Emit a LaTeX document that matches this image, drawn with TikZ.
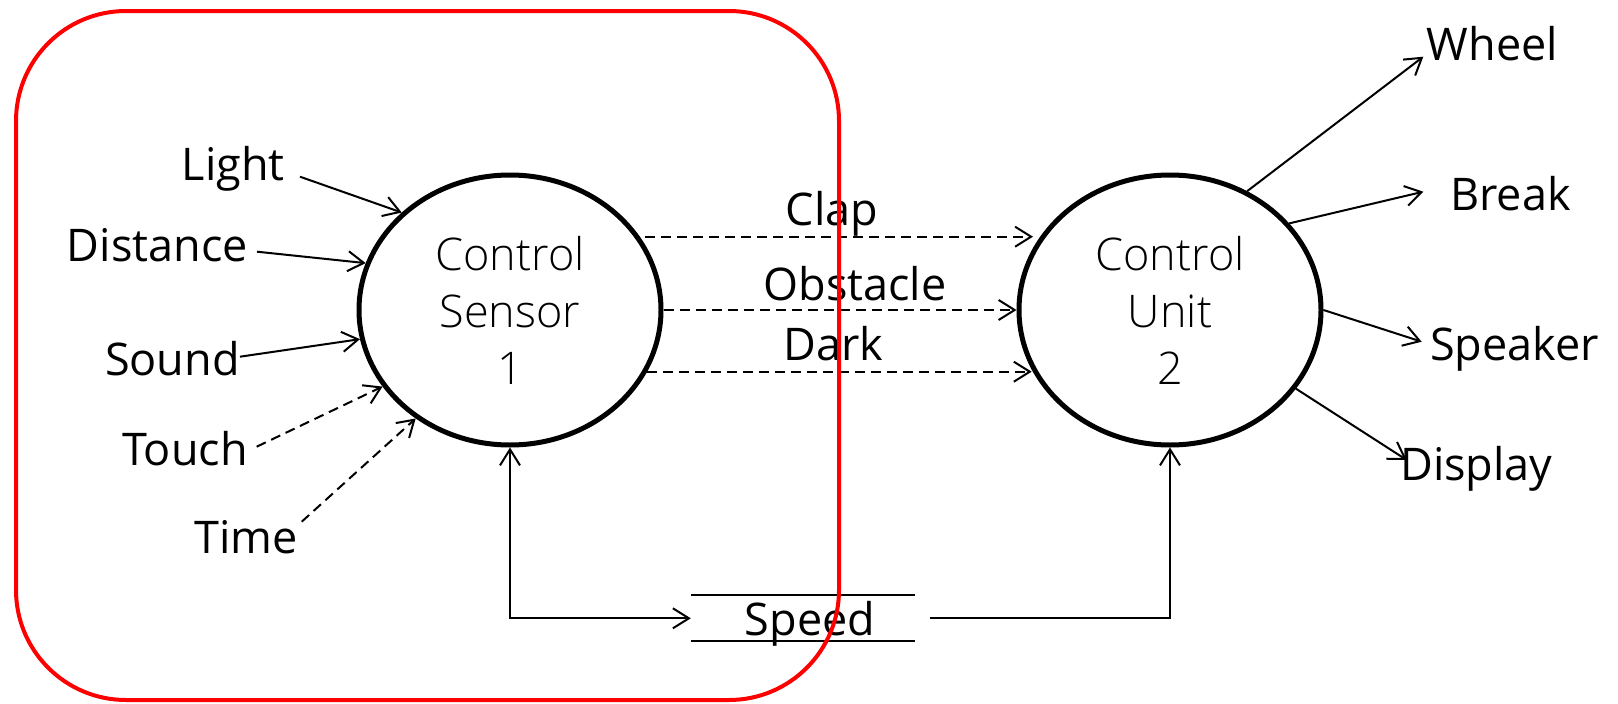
\documentclass[tikz,border=0pt]{standalone}
\usepackage{fontspec}
\setmainfont{Open Sans}
\IfFontExistsTF{Open Sans Light}{\newfontfamily\lightfont{Open Sans Light}}{\IfFontExistsTF{Fira Sans Light}{\newfontfamily\lightfont{Fira Sans Light}}{\newfontfamily\lightfont{Open Sans}}}
\usetikzlibrary{shapes.geometric,arrows.meta,calc}
\begin{document}
\begin{tikzpicture}[x=1pt,y=-1pt,
  >={Straight Barb[length=16pt,width=20pt]},
  lbl/.style={font=\fontsize{45}{54}\selectfont, inner sep=0pt},
  proc/.style={ellipse, draw, line width=5pt, minimum width=302pt, minimum height=270pt,
    inner sep=0pt, align=center, font=\lightfont\fontsize{45}{57}\selectfont},
  store/.style={minimum width=224pt, minimum height=45.3pt, inner sep=0pt,
    text height=38pt, text depth=4.6pt, font=\fontsize{45}{54}\selectfont},
  flow/.style={line width=2pt, ->},
  dflow/.style={flow, dash pattern=on 10pt off 6pt},
  frame/.style={draw=red, line width=4pt, rounded corners=110pt}]
\useasboundingbox (0,0) rectangle (1618,704);

% processes
\node[proc] (cs) at (510,310) {Control\\Sensor\\1};
\node[proc] (cu) at (1170,310) {Control\\Unit\\2};

% input labels
\node[lbl, anchor=base east] (light) at (285,180) {Light};
\node[lbl, anchor=base east] (dist) at (248,261.7) {Distance};
\node[lbl, anchor=base east] (sound) at (240,375) {Sound};
\node[lbl, anchor=base east] (touch) at (248,465) {Touch};
\node[lbl, anchor=base east] (time) at (298,553) {Time};

% output labels
\node[lbl, anchor=base west] (wheel) at (1426.7,60) {Wheel};
\node[lbl, anchor=base west] (brk) at (1450,210) {Break};
\node[lbl, anchor=base west] (spk) at (1430,360) {Speaker};
\node[lbl, anchor=base west] (disp) at (1400,480) {Display};

% data store
\node[store] (sp) at (803,618.3) {\hspace*{14pt}Speed};
\draw[line width=2pt] (sp.north west) -- (sp.north east) (sp.south west) -- (sp.south east);

% inputs
\draw[flow] ([shift={(15,-3.3)}]light.base east) -- (cs.138.9);
\draw[flow] ([shift={(9,-10)}]dist.base east) -- (cs.162.5);
\draw[flow] ([shift={(0,-18.3)}]sound.base east) -- (cs.191.5);
\draw[dflow] ([shift={(8.7,-18.3)}]touch.base east) -- (cs.211.9);
\draw[dflow] ([shift={(3.7,-31.3)}]time.base east) -- (cs.229.7);

% between processes
\draw[dflow] ([shift={(135,-73.3)}]cs.center) -- node[lbl, anchor=base, pos=0.482, yshift=11.7pt] (clap) {Clap} ([shift={(-137,-73.3)}]cu.center);
\draw[dflow] (cs.east) -- node[lbl, anchor=base, pos=0.5425, yshift=10pt] (obs) {Obstacle} (cu.west);
\draw[dflow] ([shift={(136.7,61.7)}]cs.center) -- node[lbl, anchor=base, pos=0.485, yshift=11.7pt] (dark) {Dark} ([shift={(-138.3,61.7)}]cu.center);

% outputs
\draw[flow] (cu.57.6) -- ([shift={(-3.4,-3.3)}]wheel.base west);
\draw[flow] (cu.36.7) -- ([shift={(-26.7,-18.3)}]brk.base west);
\draw[flow] (cu.-0.6) -- ([shift={(-8.3,-18.3)}]spk.base west);
\draw[flow] (cu.-32.1) -- ([shift={(6.7,-20)}]disp.base west);

% speed store connections
\draw[flow, <->] (cs.south) |- (sp.west);
\draw[flow] ([xshift=15pt]sp.east) -| (cu.south);

% red frame
\draw[frame] (16,11) rectangle (839,700);
\end{tikzpicture}
\end{document}
